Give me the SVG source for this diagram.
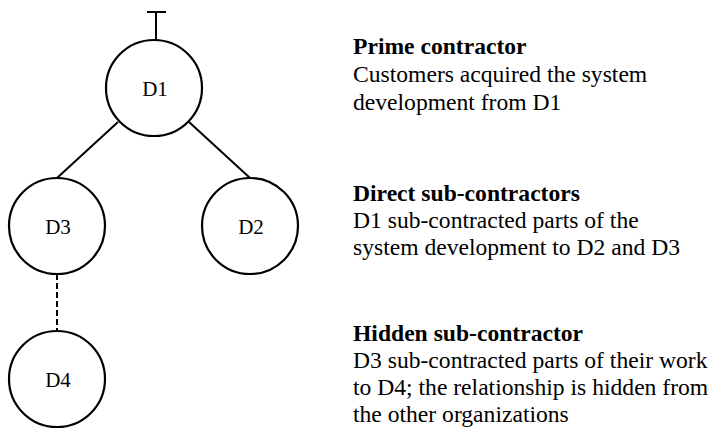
<svg xmlns="http://www.w3.org/2000/svg" width="712" height="441" viewBox="0 0 712 441">
<style>
.node{fill:#fff;stroke:#000;stroke-width:2.2}
.lbl{font-family:"Liberation Serif","Times New Roman",serif;font-size:21px;fill:#000;text-anchor:middle}
.edge{stroke:#000;stroke-width:2;fill:none}
.dash{stroke-dasharray:6 3}
.t{font-family:"Liberation Serif","Times New Roman",serif;font-size:23.6px;fill:#000}
.b{font-weight:bold}
</style>
<rect width="712" height="441" fill="#fff"/>
<g id="connectors">
<line class="edge" x1="156" y1="12" x2="156" y2="40"/>
<line class="edge" x1="147" y1="12" x2="166" y2="12"/>
<line class="edge" x1="118" y1="122" x2="57" y2="178"/>
<line class="edge" x1="189" y1="122" x2="250" y2="178"/>
<line class="edge dash" x1="57" y1="274" x2="57" y2="331"/>
</g>
<g id="D1"><circle class="node" cx="154" cy="88" r="48"/><text class="lbl" x="155" y="96">D1</text></g>
<g id="D3"><circle class="node" cx="57" cy="226" r="48"/><text class="lbl" x="58" y="234">D3</text></g>
<g id="D2"><circle class="node" cx="250" cy="226" r="48"/><text class="lbl" x="251" y="234">D2</text></g>
<g id="D4"><circle class="node" cx="57" cy="379" r="48"/><text class="lbl" x="58" y="387">D4</text></g>
<g id="legend">
<text class="t b" x="353" y="54">Prime contractor</text>
<text class="t" x="353" y="82">Customers acquired the system</text>
<text class="t" x="353" y="110">development from D1</text>
<text class="t b" x="353" y="201">Direct sub-contractors</text>
<text class="t" x="353" y="228">D1 sub-contracted parts of the</text>
<text class="t" x="353" y="255">system development to D2 and D3</text>
<text class="t b" x="353" y="341">Hidden sub-contractor</text>
<text class="t" x="353" y="368">D3 sub-contracted parts of their work</text>
<text class="t" x="353" y="395">to D4; the relationship is hidden from</text>
<text class="t" x="353" y="422">the other organizations</text>
</g>
</svg>
